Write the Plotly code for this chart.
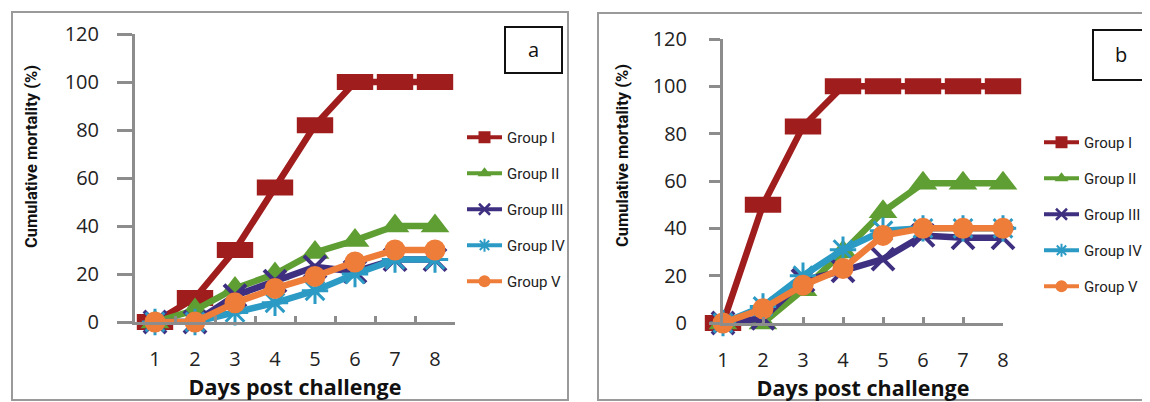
import plotly.graph_objects as go

# The page body adds an 8px margin, so the figure is 8px smaller and
# positions below are given in screenshot pixels and shifted by OFF.
OFF = 8
W, H = 1150 - OFF, 402 - OFF


def px(x):
    return (x - OFF) / W


def py(y):
    return 1 - (y - OFF) / H


days = [1, 2, 3, 4, 5, 6, 7, 8]
groups = ["Group I", "Group II", "Group III", "Group IV", "Group V"]

# Panel a values (cumulative mortality, %)
a_group1 = [0, 10, 30, 56, 82, 100, 100, 100]
a_group2 = [0, 5, 14, 20, 29, 34, 40, 40]
a_group3 = [0, 0, 11, 17, 23, 21, 26, 26]
a_group4 = [0, 0, 4, 8, 13, 20, 26, 26]
a_group5 = [0, 0, 8, 14, 19, 25, 30, 30]

# Panel b values (cumulative mortality, %)
b_group1 = [0, 50, 83, 100, 100, 100, 100, 100]
b_group2 = [0, 0, 14, 30, 47, 59, 59, 59]
b_group3 = [0, 2, 18, 22, 27, 37, 36, 36]
b_group4 = [0, 7, 20, 31, 39, 40, 40, 40]
b_group5 = [0, 6, 16, 23, 37, 40, 40, 40]

y_ticks = [0, 20, 40, 60, 80, 100, 120]
x_title = "Days post challenge"
y_title = "Cumulative mortality (%)"

colors = ["#A01D1E", "#5E9E33", "#3F2F80", "#2B9AC4", "#EE7D3A"]
# (symbol, size, line width) for plotted markers
plot_markers = [
    ("line-ew", 26, 16),
    ("triangle-up", 25, 0),
    ("x-thin", 22, 4),
    ("asterisk", 22, 3),
    ("circle", 21, 0),
]
legend_markers = [
    ("square", 12, 0),
    ("triangle-up", 12, 0),
    ("x-thin", 11, 2.5),
    ("asterisk", 11, 2),
    ("circle", 12, 0),
]

fig = go.Figure()

panels = [
    ("x", "y", "legend", [str(d) for d in days],
     [a_group1, a_group2, a_group3, a_group4, a_group5], "a"),
    ("x2", "y2", "legend2", days,
     [b_group1, b_group2, b_group3, b_group4, b_group5], "b"),
]

for xa, ya, leg, xs, series, tag in panels:
    for i, (name, vals) in enumerate(zip(groups, series)):
        sym, size, lw = plot_markers[i]
        fig.add_trace(go.Scatter(
            x=xs, y=vals, name=name, mode="lines+markers",
            xaxis=xa, yaxis=ya, legend=leg, legendgroup=tag + name,
            showlegend=False, cliponaxis=False,
            line=dict(color=colors[i], width=6.5),
            marker=dict(symbol=sym, size=size, color=colors[i],
                        line=dict(color=colors[i], width=lw)),
        ))
    for i, name in enumerate(groups):
        sym, size, lw = legend_markers[i]
        fig.add_trace(go.Scatter(
            x=[None], y=[None], name=name, mode="lines+markers",
            xaxis=xa, yaxis=ya, legend=leg, legendgroup=tag + name,
            showlegend=True,
            line=dict(color=colors[i], width=4),
            marker=dict(symbol=sym, size=size, color=colors[i],
                        line=dict(color=colors[i], width=lw)),
        ))

narrow = "Roboto, sans-serif"
axis_color = "#8C8C8C"
tick_font = dict(family="Open Sans, sans-serif", size=20, color="#222222")
xtitle_font = dict(family="Open Sans, sans-serif", size=21.5, color="#111111", weight="bold")
ytitle_font = dict(family=narrow, size=16.5, color="#111111", weight="bold")
legend_font = dict(family=narrow, size=15, color="#222222")

common_x = dict(showline=True, linecolor=axis_color, linewidth=3, showgrid=False,
                zeroline=False, ticks="inside", ticklen=6, tickwidth=3,
                tickcolor=axis_color, tickfont=tick_font)
common_y = dict(showline=True, linecolor=axis_color, linewidth=3, showgrid=False,
                zeroline=False, ticks="outside", tickwidth=3, tickcolor=axis_color,
                tickfont=tick_font, range=[0, 120], tickmode="array",
                tickvals=y_ticks)

fig.update_layout(
    width=W, height=H,
    margin=dict(l=0, r=0, t=0, b=0, autoexpand=False),
    paper_bgcolor="white", plot_bgcolor="white",
    xaxis=dict(common_x, domain=[px(135), px(455)], anchor="y", type="category",
               categoryorder="array", categoryarray=[str(d) for d in days],
               range=[-0.5, 7.5], tickson="boundaries", ticklabelstandoff=17,
               title=dict(text=x_title, font=xtitle_font, standoff=5)),
    yaxis=dict(common_y, domain=[py(322), py(34)], anchor="x", ticklen=15,
               ticklabelstandoff=14),
    xaxis2=dict(common_x, domain=[px(723), px(1003)], anchor="y2", type="linear",
                range=[1, 8], tickmode="array", tickvals=days, ticklabelstandoff=17,
                title=dict(text=x_title, font=xtitle_font, standoff=2)),
    yaxis2=dict(common_y, domain=[py(323), py(39)], anchor="x2", ticklen=11,
                ticklabelstandoff=18),
    legend=dict(x=px(462), y=py(121), xanchor="left", yanchor="top",
                font=legend_font, bgcolor="rgba(0,0,0,0)", traceorder="grouped",
                tracegroupgap=13.5, itemwidth=35),
    legend2=dict(x=px(1039), y=py(126), xanchor="left", yanchor="top",
                 font=legend_font, bgcolor="rgba(0,0,0,0)", traceorder="grouped",
                 tracegroupgap=13.5, itemwidth=35),
    showlegend=True,
)

frame = dict(type="rect", xref="paper", yref="paper",
             line=dict(color="#9A9A9A", width=2), fillcolor="rgba(0,0,0,0)", layer="below")
fig.add_shape(frame, x0=px(12), x1=px(568), y0=py(400), y1=py(12))
fig.add_shape(frame, x0=px(598), x1=px(1170), y0=py(400), y1=py(13))

box = dict(type="rect", xref="paper", yref="paper",
           line=dict(color="#111111", width=2), fillcolor="white")
fig.add_shape(box, x0=px(505), x1=px(562), y0=py(73), y1=py(27))
fig.add_shape(box, x0=px(1093), x1=px(1148), y0=py(80), y1=py(30))

# Y axis titles (placed like the original, a little above the axis centre)
for cx, cy in [(31, 157), (622, 156)]:
    fig.add_annotation(text=y_title, x=px(cx), y=py(cy), xref="paper", yref="paper",
                       xanchor="center", yanchor="middle", textangle=-90,
                       showarrow=False, font=ytitle_font)

label_font = dict(family="Open Sans, sans-serif", size=20, color="#111111")
fig.add_annotation(text="a", x=px(533.5), y=py(50), xref="paper", yref="paper",
                   xanchor="center", yanchor="middle", showarrow=False, font=label_font)
fig.add_annotation(text="b", x=px(1120.5), y=py(55), xref="paper", yref="paper",
                   xanchor="center", yanchor="middle", showarrow=False, font=label_font)

fig.write_html("out.html")
